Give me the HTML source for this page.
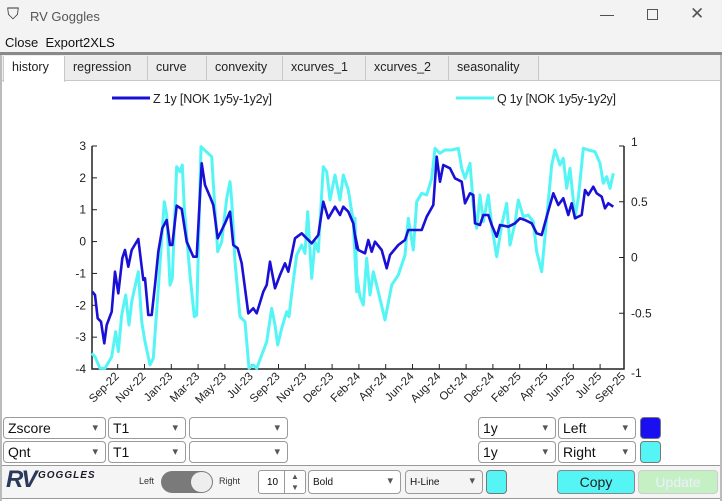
<!DOCTYPE html>
<html><head><meta charset="utf-8"><style>
*{box-sizing:border-box;margin:0;padding:0}
body{width:722px;height:501px;overflow:hidden;background:#fff;font-family:"Liberation Sans",sans-serif;position:relative}
.a{position:absolute}
.sel{position:absolute;height:22px;border:1px solid #9a9a9a;border-radius:4px;background:#fff;font-size:14px;padding:2px 4px;color:#111;}
.sel:after{content:"▾";position:absolute;right:7px;top:3px;font-size:11px;color:#555}
.tab{position:absolute;top:56px;height:24px;border-right:1px solid #c8c8c8;font-size:12.5px;color:#222;padding:4px 8px;background:#ececec}
</style></head><body>
<div class="a" style="left:0;top:0;width:722px;height:33px;background:#f3f3f3"></div>
<div class="a" style="left:7px;top:6px;font-size:16px;color:#333">⛉</div>
<div class="a" style="left:30px;top:9px;font-size:13px;color:#555">RV Goggles</div>
<div class="a" style="left:600px;top:6px;font-size:14px;color:#444">—</div>
<div class="a" style="left:647px;top:9px;width:11px;height:11px;border:1px solid #555"></div>
<div class="a" style="left:690px;top:4px;font-size:17px;color:#555">✕</div>
<div class="a" style="left:0;top:33px;width:722px;height:20px;background:#f3f3f3"></div>
<div class="a" style="left:5px;top:35px;font-size:13px;color:#111">Close&nbsp; Export2XLS</div>
<div class="a" style="left:0;top:52px;width:722px;height:3px;background:#8a8a8a"></div>
<div class="a" style="left:0;top:55px;width:722px;height:26px;background:#f0f0f0;border-bottom:1px solid #c8c8c8"></div>
<div class="tab" style="left:3px;width:62px;background:#fff;border-left:1px solid #c8c8c8;height:26px">history</div>
<div class="tab" style="left:65px;width:83px">regression</div>
<div class="tab" style="left:148px;width:59px">curve</div>
<div class="tab" style="left:207px;width:76px">convexity</div>
<div class="tab" style="left:283px;width:83px">xcurves_1</div>
<div class="tab" style="left:366px;width:83px">xcurves_2</div>
<div class="tab" style="left:449px;width:90px">seasonality</div>
<div class="a" style="left:0;top:55px;width:2px;height:446px;background:#bbb"></div>
<div class="a" style="left:720px;top:55px;width:2px;height:446px;background:#bbb"></div>

<svg class="a" style="left:0;top:0" width="722" height="501" font-family="Liberation Sans, sans-serif" font-size="12">
<line x1="112" y1="98" x2="150" y2="98" stroke="#1a0fd6" stroke-width="3"/>
<text x="153" y="103" fill="#222" font-size="12.5" textLength="119">Z 1y [NOK 1y5y-1y2y]</text>
<line x1="456" y1="98" x2="494" y2="98" stroke="#55f5f5" stroke-width="3"/>
<text x="497" y="103" fill="#222" font-size="12.5" textLength="119">Q 1y [NOK 1y5y-1y2y]</text>
<g id="ax" stroke="#222" stroke-width="1.5" fill="none">
<path d="M92 146V369H624V146"/>
</g>
<g id="ticks"></g>
<polyline id="q" fill="none" stroke="#55f5f5" stroke-width="3" stroke-linejoin="round"/>
<polyline id="z" fill="none" stroke="#1a0fd6" stroke-width="2.6" stroke-linejoin="round"/>
<g id="lbl" fill="#222"></g>
</svg>

<div class="sel" style="left:3px;top:417px;width:103px">Zscore</div>
<div class="sel" style="left:108px;top:417px;width:78px">T1</div>
<div class="sel" style="left:189px;top:417px;width:99px"></div>
<div class="sel" style="left:478px;top:417px;width:78px">1y</div>
<div class="sel" style="left:558px;top:417px;width:78px">Left</div>
<div class="a" style="left:640px;top:417px;width:21px;height:22px;background:#1a0ff0;border:1px solid #777;border-radius:4px"></div>
<div class="sel" style="left:3px;top:441px;width:103px">Qnt</div>
<div class="sel" style="left:108px;top:441px;width:78px">T1</div>
<div class="sel" style="left:189px;top:441px;width:99px"></div>
<div class="sel" style="left:478px;top:441px;width:78px">1y</div>
<div class="sel" style="left:558px;top:441px;width:78px">Right</div>
<div class="a" style="left:640px;top:441px;width:21px;height:22px;background:#55f5f5;border:1px solid #777;border-radius:4px"></div>

<div class="a" style="left:2px;top:465px;width:718px;height:34px;background:#f5f5f5;border-top:1px solid #999;border-bottom:1px solid #999"></div>
<div class="a" style="left:6px;top:466px;font-size:24px;font-weight:bold;font-style:italic;color:#2a3a5a;letter-spacing:-2px">RV</div>
<div class="a" style="left:38px;top:470px;font-size:10px;font-weight:bold;font-style:italic;color:#1a1a2a;letter-spacing:1px">GOGGLES</div>
<div class="a" style="left:139px;top:476px;font-size:9px;color:#333">Left</div>
<div class="a" style="left:161px;top:471px;width:52px;height:22px;border-radius:11px;background:#7a7a7a"></div>
<div class="a" style="left:191px;top:472px;width:21px;height:20px;border-radius:10px;background:#eee"></div>
<div class="a" style="left:219px;top:476px;font-size:9px;color:#333">Right</div>
<div class="a" style="left:258px;top:470px;width:48px;height:24px;border:1px solid #999;border-radius:3px;background:#fff;font-size:10px;padding:6px 0 0 8px">10</div>
<div class="a" style="left:284px;top:471px;width:21px;height:22px;border-left:1px solid #999;font-size:8px;color:#555;text-align:center;line-height:11px">▲<br>▼</div>
<div class="sel" style="left:308px;top:470px;width:93px;height:24px;font-size:10px;padding-top:6px">Bold</div>
<div class="sel" style="left:405px;top:470px;width:78px;height:24px;font-size:10px;padding-top:6px;background:#f4f4f4">H-Line</div>
<div class="a" style="left:486px;top:470px;width:21px;height:24px;background:#55f5f5;border:1px solid #777;border-radius:4px"></div>
<div class="a" style="left:557px;top:470px;width:78px;height:24px;background:#55f5f5;border:1px solid #888;border-radius:4px;font-size:14px;text-align:center;line-height:22px;color:#222">Copy</div>
<div class="a" style="left:638px;top:470px;width:80px;height:24px;background:#c4f0c4;border:1px solid #ccc;border-radius:4px;font-size:14px;text-align:center;line-height:22px;color:#eef">Update</div>

<script>
var NS="http://www.w3.org/2000/svg";
function mk(t,a,p,txt){var e=document.createElementNS(NS,t);for(var k in a)e.setAttribute(k,a[k]);if(txt)e.textContent=txt;p.appendChild(e);return e;}
var tk=document.getElementById('ticks'),lb=document.getElementById('lbl');
["3","2","1","0","-1","-2","-3","-4"].forEach(function(s,i){var y=146+i*31.86;mk('line',{x1:92,y1:y,x2:97,y2:y,stroke:'#222'},tk);mk('text',{x:86,y:y+4,'text-anchor':'end'},lb,s);});
["1","0.5","0","-0.5","-1"].forEach(function(s,i){var y=146+i*55.75;mk('line',{x1:619,y1:y,x2:624,y2:y,stroke:'#222'},tk);mk('text',{x:631,y:y+(i==0?0:(i==4?8:4))},lb,s);});
var L="Sep-22 Nov-22 Jan-23 Mar-23 May-23 Jul-23 Sep-23 Nov-23 Dec-23 Feb-24 Apr-24 Jun-24 Aug-24 Oct-24 Dec-24 Feb-25 Apr-25 Jun-25 Jul-25 Sep-25".split(" ");
L.forEach(function(s,i){var x=117.7+i*26.8;if(i==19)x=624;mk('line',{x1:x,y1:369,x2:x,y2:364,stroke:'#222'},tk);mk('text',{x:0,y:0,'text-anchor':'end','font-size':'11.5',transform:'translate('+(x+2)+',377) rotate(-45)'},lb,s);});
function P(a,ox){var r=[];for(var i=0;i<a.length;i+=2)r.push((ox+a[i]/3).toFixed(1)+","+(135+a[i+1]/3).toFixed(1));return r.join(" ");}
var z1=[22,470,30,480,38,550,48,560,58,625,65,570,80,530,90,410,100,475,112,370,120,345,130,395,140,345,160,312,175,435,180,430,190,540,200,540,210,450,220,350,232,280,245,255,255,330,262,330,275,212,290,222,305,320,325,365,335,365,350,85,360,150,375,185,385,210,398,310,408,290,420,265,435,230,445,330,458,340,470,385,490,535,505,520,515,535,535,470,545,450,555,380,570,460,585,420,600,385,610,410,630,310,650,295,660,305,680,325,700,300,715,200,730,250,750,215,765,240,775,215,790,230,805,265,815,340];
var z2=[0,300,10,345,30,355,40,315,50,350,60,320,80,345,95,400,105,360,130,330,150,315,160,285,175,285,200,285,215,245,235,210,245,65,255,140,265,90,285,100,300,130,320,140,330,205,345,175,355,180,360,265,375,270,385,240,400,240,410,270,425,305,435,270,460,275,480,265,495,250,510,255,530,265,545,295,560,300,575,245,595,175,610,210,625,190,640,240,650,205,660,250,680,240,690,165,700,180,715,155,725,175,740,185,750,220,760,205,775,215];
var q1=[20,655,30,665,45,700,60,700,80,665,92,590,100,650,110,540,122,480,132,570,140,500,160,410,170,560,180,620,195,690,205,670,220,460,238,200,245,240,255,450,262,430,275,95,285,110,292,90,298,220,315,420,328,545,335,540,348,35,380,65,385,145,398,350,410,320,425,190,435,140,440,195,450,380,465,545,480,560,492,700,505,690,515,700,530,660,545,620,560,520,570,570,578,630,590,580,605,530,612,545,620,475,635,360,650,330,660,355,668,230,680,430,690,320,700,350,715,95,725,110,735,195,750,120,765,195,775,120,790,165,805,260,815,470];
var q2=[0,250,5,420,15,485,25,510,35,370,45,480,55,410,70,470,90,555,110,450,130,420,150,360,160,250,175,345,185,200,200,175,215,180,230,130,240,40,255,55,270,45,290,45,310,40,320,100,330,130,345,85,355,210,365,280,375,180,385,260,400,180,410,270,425,365,440,270,455,205,465,330,480,265,490,195,505,245,520,240,535,260,545,350,560,410,575,250,590,90,600,45,615,90,625,70,635,160,645,100,660,245,670,190,685,40,700,45,720,50,735,85,745,145,755,125,765,160,775,115];
document.getElementById('z').setAttribute('points',P(z1,85)+" "+P(z2,355));
document.getElementById('q').setAttribute('points',P(q1,85)+" "+P(q2,355));
</script>
</body></html>
